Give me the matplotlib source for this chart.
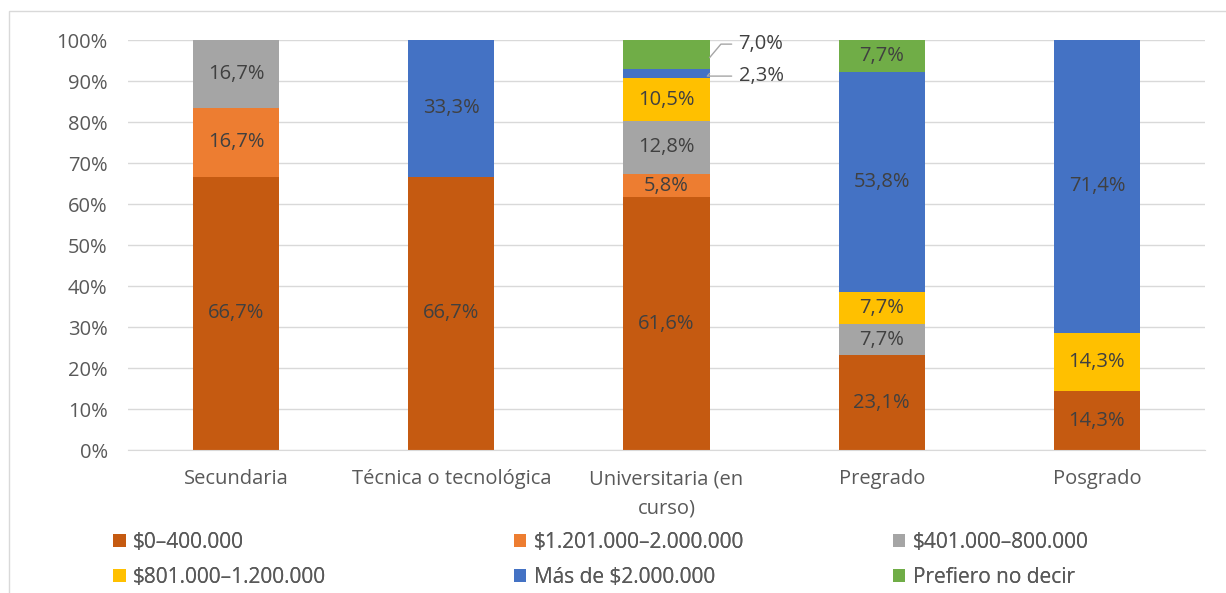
import matplotlib.pyplot as plt
import numpy as np
from matplotlib.patches import Rectangle

# datos (porcentajes)
categorias = ["Secundaria", "Técnica o tecnológica", "Universitaria (en\ncurso)",
              "Pregrado", "Posgrado"]
series = ["$0–400.000", "$1.201.000–2.000.000", "$401.000–800.000",
          "$801.000–1.200.000", "Más de $2.000.000", "Prefiero no decir"]
v_0_400 = [66.7, 66.7, 61.6, 23.1, 14.3]
v_1201_2000 = [16.7, 0, 5.8, 0, 0]
v_401_800 = [16.7, 0, 12.8, 7.7, 0]
v_801_1200 = [0, 0, 10.5, 7.7, 14.3]
v_mas_2000 = [0, 33.3, 2.3, 53.8, 71.4]
v_no_decir = [0, 0, 7.0, 7.7, 0]

colores = ["#C55A11", "#ED7D31", "#A5A5A5", "#FFC000", "#4472C4", "#70AD47"]
valores = [v_0_400, v_1201_2000, v_401_800, v_801_1200, v_mas_2000, v_no_decir]

plt.rcParams['font.family'] = ['Open Sans', 'DejaVu Sans']
gris = "#595959"
fs = 14.5

fig = plt.figure(figsize=(12.26, 5.93), dpi=100)
ax = fig.add_axes([0.1048, 0.2411, 0.8777, 0.6914])

# marco del grafico
fig.patches.append(Rectangle((9 / 1226, -0.01), 1.0, 1 - 11 / 593 + 0.01,
                             transform=fig.transFigure, fill=False,
                             edgecolor="#D9D9D9", linewidth=1))

x = np.arange(len(categorias))
base = np.zeros(len(categorias))
barras = []
fuera = {(4, 2), (5, 2)}  # (serie, categoria) con etiqueta externa
for k, (nombre, vals, c) in enumerate(zip(series, valores, colores)):
    vals = np.array(vals)
    b = ax.bar(x, vals, 0.4, bottom=base, color=c, label=nombre, zorder=2)
    barras.append(b)
    for i, v in enumerate(vals):
        if v <= 0 or (k, i) in fuera:
            continue
        mid = base[i] + v / 2
        txt = f"{v:.1f}%".replace(".", ",")
        ax.text(x[i], mid, txt, ha="center", va="center", fontsize=fs,
                color="#404040", zorder=3)
    base = base + vals

# etiquetas externas con lineas guia (Universitaria)
i = 2
mid_verde = 100 - v_no_decir[i] / 2 - 0.8
mid_azul = 100 - v_no_decir[i] - v_mas_2000[i] / 2
for mid, ytxt, v in [(mid_verde, 99.0, v_no_decir[i]), (mid_azul, 91.2, v_mas_2000[i])]:
    ax.annotate(f"{v:.1f}%".replace(".", ","), xy=(x[i] + 0.2, mid),
                xytext=(x[i] + 0.335, ytxt), ha="left", va="center",
                fontsize=fs, color="#404040",
                arrowprops=dict(arrowstyle="-", color="#A6A6A6", lw=1,
                                shrinkA=3, shrinkB=0,
                                connectionstyle="angle,angleA=0,angleB=50,rad=0"))

ax.set_ylim(0, 100)
ax.set_xlim(-0.5, len(categorias) - 0.5)
ax.set_yticks(range(0, 101, 10))
ax.set_yticklabels([f"{t}%" for t in range(0, 101, 10)])
ax.set_xticks(x)
ax.set_xticklabels(categorias, linespacing=1.6)
ax.grid(axis="y", color="#D9D9D9", linewidth=1, zorder=0)
for s in ["top", "right", "left"]:
    ax.spines[s].set_visible(False)
ax.spines["bottom"].set_color("#D9D9D9")
ax.tick_params(length=0, labelsize=fs, colors=gris)
ax.tick_params(axis="x", pad=14)
ax.tick_params(axis="y", pad=15)

# leyenda: cada entrada en su lugar
pos = [(0.082, 0.046), (0.409, 0.046), (0.718, 0.046),
       (0.082, -0.012), (0.409, -0.012), (0.718, -0.012)]
for b, nombre, (px, py) in zip(barras, series, pos):
    lg = fig.legend([b], [nombre], loc="lower left", bbox_to_anchor=(px, py),
                    frameon=False, fontsize=fs + 0.5, handlelength=0.6,
                    handleheight=0.6, handletextpad=0.35, borderpad=0.1,
                    labelcolor=gris)
    fig.add_artist(lg)

fig.savefig("out.png", dpi=100)
